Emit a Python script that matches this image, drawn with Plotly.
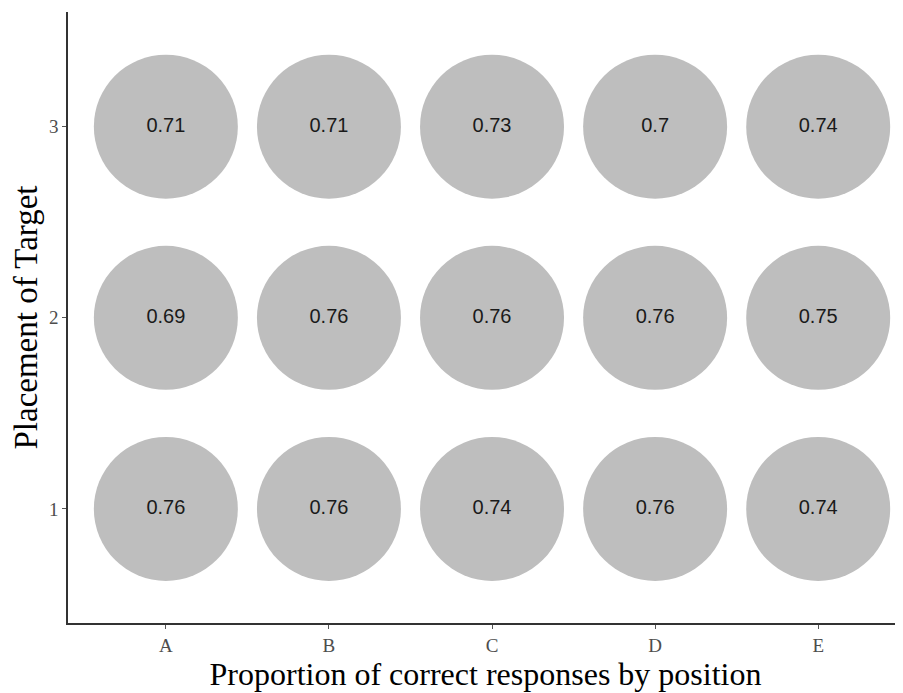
import plotly.graph_objects as go

# proportion of correct responses, by position (x) and target placement (y)
positions = ["A", "B", "C", "D", "E"]
placements = [1, 2, 3]
values = {
    1: [0.76, 0.76, 0.74, 0.76, 0.74],
    2: [0.69, 0.76, 0.76, 0.76, 0.75],
    3: [0.71, 0.71, 0.73, 0.70, 0.74],
}

xs, ys, vs = [], [], []
for p in placements:
    for i, pos in enumerate(positions):
        xs.append(i + 1)
        ys.append(p)
        vs.append(values[p][i])

fig = go.Figure()
fig.add_trace(go.Scatter(
    x=xs, y=ys,
    mode="markers+text",
    marker=dict(size=144, color="#bebebe", line=dict(width=0)),
    text=[f"{v:g}" for v in vs],
    textposition="middle center",
    textfont=dict(family="Liberation Sans, Arial", size=20, color="#1a1a1a"),
    showlegend=False,
    cliponaxis=False,
))

serif = "Liberation Serif, Times New Roman, serif"
# page has an 8px body margin, so figure is 895x685
fig.update_layout(
    width=895, height=685,
    margin=dict(l=60, r=0, t=4, b=70),
    plot_bgcolor="white", paper_bgcolor="white",
    xaxis=dict(
        range=[0.4, 5.52],
        tickmode="array", tickvals=[1, 2, 3, 4, 5], ticktext=positions,
        showgrid=False, zeroline=False,
        showline=True, linecolor="#333333", linewidth=1.5,
        ticks="outside", ticklen=4, tickcolor="#555555",
        tickfont=dict(family=serif, size=19, color="#4d4d4d"),
        title=dict(text="Proportion of correct responses by position",
                   font=dict(family=serif, size=32, color="black"), standoff=0),
    ),
    yaxis=dict(
        range=[0.403, 3.6],
        tickmode="array", tickvals=placements, ticktext=[str(p) for p in placements],
        showgrid=False, zeroline=False,
        showline=True, linecolor="#333333", linewidth=1.5,
        ticks="outside", ticklen=4, tickcolor="#555555",
        tickfont=dict(family=serif, size=19, color="#4d4d4d"),
        title=dict(text="Placement of Target",
                   font=dict(family=serif, size=33, color="black"), standoff=3),
    ),
)

fig.write_html("out.html")
